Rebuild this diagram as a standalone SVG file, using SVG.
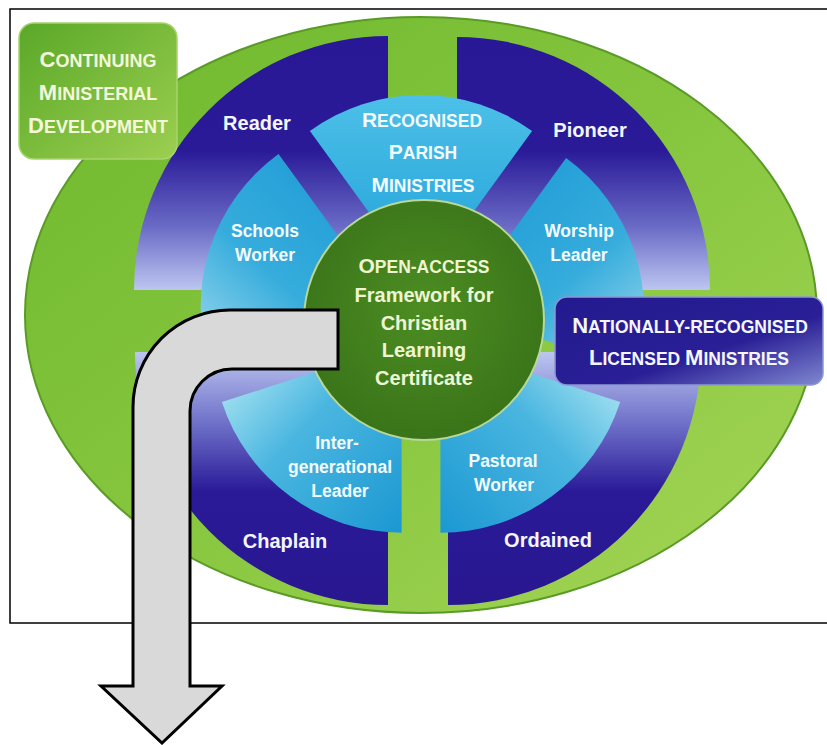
<svg xmlns="http://www.w3.org/2000/svg" width="827" height="745" viewBox="0 0 827 745">
<defs>
<linearGradient id="gEll" x1="0" y1="0" x2="1" y2="1"><stop offset="0" stop-color="#6db82e"/><stop offset="0.5" stop-color="#86c63e"/><stop offset="1" stop-color="#a6d657"/></linearGradient>
<linearGradient id="gBlueTop" gradientUnits="userSpaceOnUse" x1="0" y1="37" x2="0" y2="290"><stop offset="0" stop-color="#291895"/><stop offset="0.45" stop-color="#2a1a98"/><stop offset="0.75" stop-color="#6a6bc6"/><stop offset="1" stop-color="#bcc6f0"/></linearGradient>
<linearGradient id="gBlueBot" gradientUnits="userSpaceOnUse" x1="0" y1="352" x2="0" y2="605"><stop offset="0" stop-color="#bcc6f0"/><stop offset="0.3" stop-color="#6a6bc6"/><stop offset="0.55" stop-color="#2a1a98"/><stop offset="1" stop-color="#28178f"/></linearGradient>
<linearGradient id="gRec" x1="0" y1="0" x2="0" y2="1"><stop offset="0" stop-color="#4cc0e8"/><stop offset="1" stop-color="#1e9fd7"/></linearGradient>
<linearGradient id="gSch" x1="0.8" y1="0" x2="0" y2="1"><stop offset="0" stop-color="#1d9ad5"/><stop offset="0.55" stop-color="#35acdc"/><stop offset="1" stop-color="#a4dcee"/></linearGradient>
<linearGradient id="gWor" x1="0.2" y1="0" x2="1" y2="1"><stop offset="0" stop-color="#1d9ad5"/><stop offset="0.55" stop-color="#35acdc"/><stop offset="1" stop-color="#a4dcee"/></linearGradient>
<linearGradient id="gInt" x1="0" y1="0" x2="1" y2="1"><stop offset="0" stop-color="#c2f0f6"/><stop offset="0.45" stop-color="#4ab6e0"/><stop offset="1" stop-color="#1b98d2"/></linearGradient>
<linearGradient id="gPas" x1="1" y1="0" x2="0" y2="1"><stop offset="0" stop-color="#c2f0f6"/><stop offset="0.45" stop-color="#4ab6e0"/><stop offset="1" stop-color="#1b98d2"/></linearGradient>
<radialGradient id="gCirc" cx="0.5" cy="0.45" r="0.55"><stop offset="0" stop-color="#4c8d22"/><stop offset="1" stop-color="#3a7419"/></radialGradient>
<linearGradient id="gCont" x1="0" y1="0" x2="1" y2="1"><stop offset="0" stop-color="#5aa828"/><stop offset="1" stop-color="#9ccf50"/></linearGradient>
<linearGradient id="gNat" x1="0" y1="0" x2="1" y2="1"><stop offset="0" stop-color="#221a8e"/><stop offset="0.6" stop-color="#2a1f96"/><stop offset="1" stop-color="#8088d0"/></linearGradient>
<style>
.t{font-family:"Liberation Sans",Arial,sans-serif;font-weight:bold;text-anchor:middle}
.wb{fill:#f4f6ff;font-size:20px}
.wc{fill:#f4fbff;font-size:17.5px}
.gc{fill:#eef5d2;font-size:20px}
.cont{fill:#f3f8dc}
.nat{fill:#f4f6ff}
.big{font-size:22px}
.sm{font-size:18px}
.arrow{fill:#d9d9d9;stroke:#000;stroke-width:3;stroke-linejoin:miter}
</style>
</defs>
<rect x="10" y="9" width="830" height="614" fill="#fff" stroke="#000" stroke-width="1.5"/>
<g id="ring">
<ellipse cx="421" cy="315" rx="396" ry="298" fill="url(#gEll)" stroke="#5a9a26" stroke-width="2"/>
</g>
<g id="reader"><path d="M388 290 L134 290 A254 254 0 0 1 388 36 Z" fill="url(#gBlueTop)"/></g>
<g id="pioneer"><path d="M457 290 L457 37 A253 253 0 0 1 710 290 Z" fill="url(#gBlueTop)"/></g>
<g id="chaplain"><path d="M388 352 L388 605 A253 253 0 0 1 135 352 Z" fill="url(#gBlueBot)"/></g>
<g id="ordained"><path d="M448 352 L701 352 A253 253 0 0 1 448 605 Z" fill="url(#gBlueBot)"/></g>
<g id="recognised"><path d="M421 284 L532.1 131.1 A189 189 0 0 0 309.9 131.1 Z" fill="url(#gRec)"/></g>
<g id="schools"><path d="M389.6 306.8 L278.5 153.9 A189 189 0 0 0 209.9 365.2 Z" fill="url(#gSch)"/></g>
<g id="intergen"><path d="M401.6 343.7 L221.9 402.1 A189 189 0 0 0 401.6 532.7 Z" fill="url(#gInt)"/></g>
<g id="pastoral"><path d="M440.4 343.7 L440.4 532.7 A189 189 0 0 0 620.2 402.1 Z" fill="url(#gPas)"/></g>
<g id="worship"><path d="M455 311 L634.8 369.4 A189 189 0 0 0 566.1 158.1 Z" fill="url(#gWor)"/></g>
<g id="centre"><circle cx="424" cy="320" r="120" fill="url(#gCirc)" stroke="#b8d898" stroke-width="2"/></g>
<g id="continuing"><rect x="19" y="23" width="158" height="136" rx="15" fill="url(#gCont)" stroke="#a8d46c" stroke-width="1.5"/></g>
<g id="national"><rect x="555" y="297" width="268" height="88" rx="12" fill="url(#gNat)" stroke="#8c98d4" stroke-width="1.5"/></g>
<g id="connectors">
<path class="arrow" d="M338 310 L338 369 L232 369 A42 42 0 0 0 190 411 L190 686 L222 686 L162 743 L101 686 L133 686 L133 407 A97 97 0 0 1 230 310 Z"/>
</g>
<g id="labels">
<text class="t wb" x="257" y="130">Reader</text>
<text class="t wb" x="590" y="137">Pioneer</text>
<text class="t wb" x="285" y="548">Chaplain</text>
<text class="t wb" x="548" y="547">Ordained</text>
<text class="t wc" x="265" y="237">Schools</text>
<text class="t wc" x="265" y="261">Worker</text>
<text class="t wc" x="579" y="237">Worship</text>
<text class="t wc" x="579" y="261">Leader</text>
<text class="t wc" x="337" y="449">Inter-</text>
<text class="t wc" x="340" y="473">generational</text>
<text class="t wc" x="340" y="497">Leader</text>
<text class="t wc" x="503" y="467">Pastoral</text>
<text class="t wc" x="504" y="491">Worker</text>
<text class="t wc" x="422" y="127" style="font-size:17.5px"><tspan style="font-size:21px">R</tspan>ECOGNISED</text>
<text class="t wc" x="423" y="159" style="font-size:17.5px"><tspan style="font-size:21px">P</tspan>ARISH</text>
<text class="t wc" x="423" y="192" style="font-size:17.5px"><tspan style="font-size:21px">M</tspan>INISTRIES</text>
<text class="t gc" x="424" y="273" style="font-size:17.5px"><tspan style="font-size:21px">O</tspan>PEN-ACCESS</text>
<text class="t gc" x="424" y="302">Framework for</text>
<text class="t gc" x="424" y="330">Christian</text>
<text class="t gc" x="424" y="357">Learning</text>
<text class="t gc" x="424" y="385">Certificate</text>
<text class="t cont sm" x="98" y="67"><tspan class="big">C</tspan>ONTINUING</text>
<text class="t cont sm" x="98" y="100"><tspan class="big">M</tspan>INISTERIAL</text>
<text class="t cont sm" x="98" y="133"><tspan class="big">D</tspan>EVELOPMENT</text>
<text class="t nat" x="690" y="333" style="font-size:17.5px"><tspan style="font-size:22px">N</tspan>ATIONALLY-RECOGNISED</text>
<text class="t nat" x="689" y="365" style="font-size:17.5px"><tspan style="font-size:22px">L</tspan>ICENSED <tspan style="font-size:22px">M</tspan>INISTRIES</text>
</g>
</svg>
